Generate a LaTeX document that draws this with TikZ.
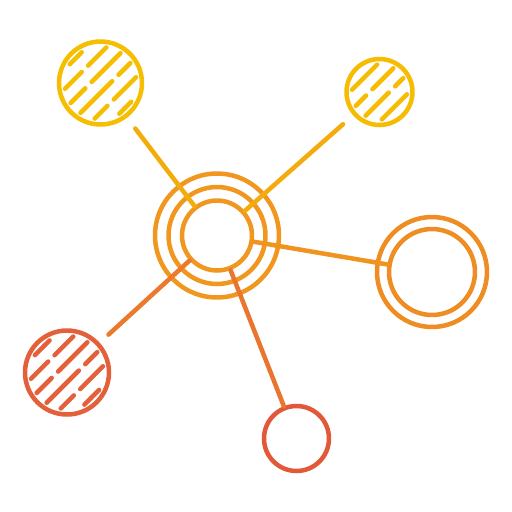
\documentclass[tikz,border=0pt]{standalone}
\usetikzlibrary{calc}

\definecolor{colTL}{HTML}{F6BE00}
\definecolor{colTR}{HTML}{F5BC02}
\definecolor{colTLk}{HTML}{F3AD0B}
\definecolor{colTRk}{HTML}{F3AB0D}
\definecolor{colHub}{HTML}{F1971F}
\definecolor{colR}{HTML}{EF8D24}
\definecolor{colRk}{HTML}{F0931F}
\definecolor{colBLk}{HTML}{EB7A2C}
\definecolor{colBk}{HTML}{E9752E}
\definecolor{colBL}{HTML}{E4603A}
\definecolor{colB}{HTML}{E2593A}

\tikzset{
  ring/.style={draw, circle, line width=0.09cm, inner sep=0pt},
  link/.style={line width=0.09cm, line cap=round},
  hatch/.style={line width=0.09cm, line cap=round}
}

\begin{document}
\begin{tikzpicture}[x=0.02cm, y=-0.02cm]
\fill[white] (0,0) rectangle (512,512);
\useasboundingbox (0,0) rectangle (512,512);

\def \sp {14}  % spacing of hatch lines
\def \gap {9}  % break in a hatch line

% hub with three rings
\node[ring, draw=colHub, minimum size=1.40cm] (hub) at (217,235.5) {};
\node[ring, draw=colHub, minimum size=1.94cm] (hubmid) at (hub) {};
\node[ring, draw=colHub, minimum size=2.48cm] (hubout) at (hub) {};

% satellites
\node[ring, draw=colTL, minimum size=1.66cm] (tl) at (100.5,83) {};
\node[ring, draw=colTR, minimum size=1.32cm] (tr) at (379.5,92) {};
\node[ring, draw=colR, minimum size=2.20cm] (rgt) at (432,272) {};
\node[ring, draw=colR, minimum size=1.72cm] (rgtin) at (rgt) {};
\node[ring, draw=colBL, minimum size=1.68cm] (bl) at (67,372.5) {};
\node[ring, draw=colB, minimum size=1.30cm] (bot) at (296.5,438.5) {};

% links
\draw[link, colTLk, shorten <=0.27cm] (tl) -- (hub);
\draw[link, colTRk, shorten <=0.27cm] (tr) -- (hub);
\draw[link, colRk] (hub) -- (rgtin);
\draw[link, colBLk, shorten <=0.24cm] (bl) -- (hub);
\draw[link, colBk] (hub) -- (bot);

% broken hatching
\foreach \c/\r/\col/\ks in {tl/41.5/colTL/{-2.5,-1.5,...,2.5}, tr/33/colTR/{-1.5,-0.5,...,1.5}, bl/42/colBL/{-2.5,-1.5,...,2.5}}
{
  \foreach \k in \ks
  {
    \pgfmathsetmacro \h {sqrt((\r-5.5)^2 - (\k*\sp)^2)}
    \pgfmathsetmacro \g {\h > 20 ? \gap : 0}
    \pgfmathsetmacro \t {0.5 + 0.2*sin(\k*130 + 20)}
    \pgfmathsetmacro \a {-\h + 2*\h*\t - \g/2}
    \pgfmathsetmacro \b {\a + \g}
    \coordinate (o) at ($(\c)+(45:\k*\sp)$);
    \draw[hatch, \col] ($(o)+(-45:-\h)$) -- ($(o)+(-45:\a)$);
    \draw[hatch, \col] ($(o)+(-45:\b)$) -- ($(o)+(-45:\h)$);
  }
}
\end{tikzpicture}
\end{document}
